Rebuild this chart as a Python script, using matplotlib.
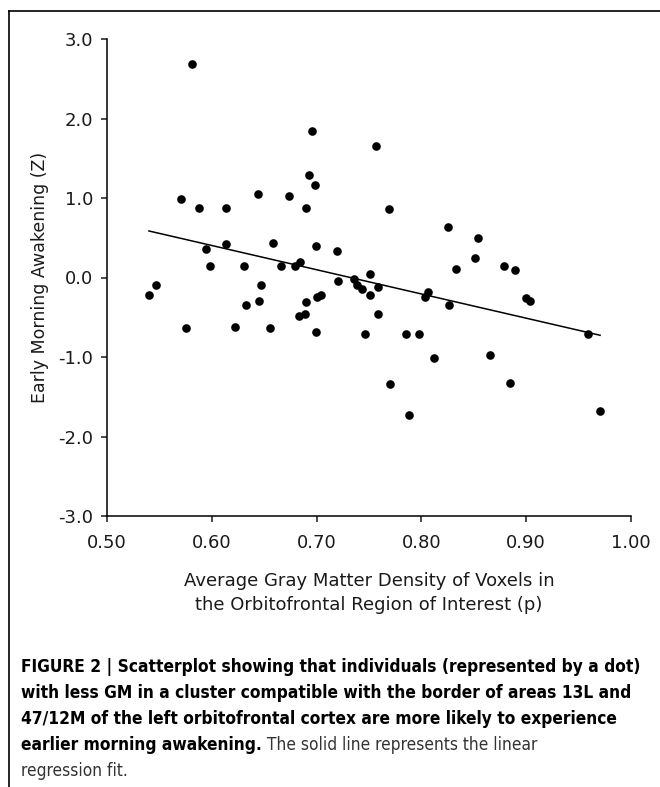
import matplotlib
matplotlib.use("Agg")
import matplotlib.pyplot as plt
from matplotlib.lines import Line2D
import numpy as np

# values
gm_density = [0.540, 0.547, 0.571, 0.575, 0.5815, 0.588, 0.594, 0.598, 0.614, 0.614,
              0.6225, 0.631, 0.633, 0.644, 0.6455, 0.647, 0.656, 0.658, 0.666, 0.674,
              0.679, 0.683, 0.684, 0.689, 0.690, 0.690, 0.6925, 0.696, 0.698, 0.699,
              0.699, 0.700, 0.704, 0.719, 0.720, 0.736, 0.739, 0.743, 0.746, 0.751,
              0.751, 0.757, 0.7585, 0.759, 0.769, 0.770, 0.785, 0.788, 0.7975, 0.803,
              0.806, 0.812, 0.825, 0.826, 0.833, 0.851, 0.854, 0.865, 0.879, 0.885,
              0.889, 0.900, 0.904, 0.959, 0.9705]
awakening_z = [-0.22, -0.10, 0.99, -0.63, 2.69, 0.88, 0.36, 0.14, 0.87, 0.42,
               -0.62, 0.14, -0.35, 1.05, -0.30, -0.10, -0.64, 0.43, 0.14, 1.03,
               0.15, -0.49, 0.20, -0.46, 0.88, -0.31, 1.29, 1.84, 1.16, 0.40,
               -0.68, -0.24, -0.22, 0.33, -0.04, -0.02, -0.09, -0.14, -0.71, 0.05,
               -0.22, 1.66, -0.46, -0.12, 0.86, -1.34, -0.71, -1.73, -0.71, -0.25,
               -0.18, -1.01, 0.64, -0.34, 0.11, 0.25, 0.50, -0.97, 0.14, -1.33,
               0.09, -0.26, -0.30, -0.71, -1.68]

x_ticks = [0.50, 0.60, 0.70, 0.80, 0.90, 1.00]
y_ticks = [-3.0, -2.0, -1.0, 0.0, 1.0, 2.0, 3.0]

x_label = "Average Gray Matter Density of Voxels in\nthe Orbitofrontal Region of Interest (p)"
y_label = "Early Morning Awakening (Z)"

caption_bold = [
    "FIGURE 2 | Scatterplot showing that individuals (represented by a dot)",
    "with less GM in a cluster compatible with the border of areas 13L and",
    "47/12M of the left orbitofrontal cortex are more likely to experience",
    "earlier morning awakening.",
]
caption_plain = [" The solid line represents the linear", "regression fit."]

W, H = 660, 787
fig = plt.figure(figsize=(W / 100, H / 100), dpi=100)
ax = fig.add_axes([107 / W, 1 - 516 / H, 524 / W, 477 / H])

ax.plot(gm_density, awakening_z, "o", color="black", markersize=6.2,
        markeredgewidth=0, zorder=3, clip_on=False)

# linear regression fit
slope, intercept = np.polyfit(gm_density, awakening_z, 1)
xs = np.array([min(gm_density), max(gm_density)])
ax.plot(xs, slope * xs + intercept, color="black", lw=1.1)

ax.set_xlim(0.5, 1.0)
ax.set_ylim(-3.0, 3.0)
ax.set_xticks(x_ticks)
ax.set_xticklabels([f"{v:.2f}" for v in x_ticks])
ax.set_yticks(y_ticks)
ax.set_yticklabels([f"{v:.1f}" for v in y_ticks])
for s in ["top", "right"]:
    ax.spines[s].set_visible(False)
for s in ["left", "bottom"]:
    ax.spines[s].set_linewidth(1.1)
ax.tick_params(axis="x", direction="out", length=4, width=1.1, pad=9,
               labelsize=13, colors="#1a1a1a")
ax.tick_params(axis="y", direction="out", length=4, width=1.1, pad=6,
               labelsize=13, colors="#1a1a1a")

fig.text(40 / W, 1 - 277.5 / H, y_label, rotation=90, ha="center", va="center",
         fontsize=12.5, color="#1a1a1a")
fig.text(369 / W, 1 - 593 / H, x_label, ha="center", va="center",
         fontsize=13, color="#1a1a1a", linespacing=1.45)

# frame lines of the figure panel
fig.add_artist(Line2D([8.5 / W, 8.5 / W], [0, 1 - 11 / H], color="black", lw=1.2))
fig.add_artist(Line2D([8.5 / W, 1], [1 - 11 / H, 1 - 11 / H], color="black", lw=1.2))

# caption: condensed face if there is one, size fitted to the first line width
cap_kw = dict(family="DejaVu Sans", fontstretch="condensed")
cap_x = 21 / W
base = [672, 698, 724, 750, 776]
renderer = fig.canvas.get_renderer()
probe = fig.text(cap_x, 0.5, caption_bold[0], fontsize=13.5, fontweight="bold", **cap_kw)
width = probe.get_window_extent(renderer=renderer).width
probe.remove()
cap_size = 13.5 * 621 / width

for i, line in enumerate(caption_bold):
    t = fig.text(cap_x, 1 - base[i] / H, line, fontsize=cap_size, fontweight="bold",
                 ha="left", va="baseline", color="black", **cap_kw)
ext = t.get_window_extent(renderer=renderer)
fig.text(ext.x1 / W, 1 - base[3] / H, caption_plain[0], fontsize=cap_size,
         ha="left", va="baseline", color="#333333", **cap_kw)
fig.text(cap_x, 1 - base[4] / H, caption_plain[1], fontsize=cap_size,
         ha="left", va="baseline", color="#333333", **cap_kw)

fig.savefig("out.png", dpi=100)
